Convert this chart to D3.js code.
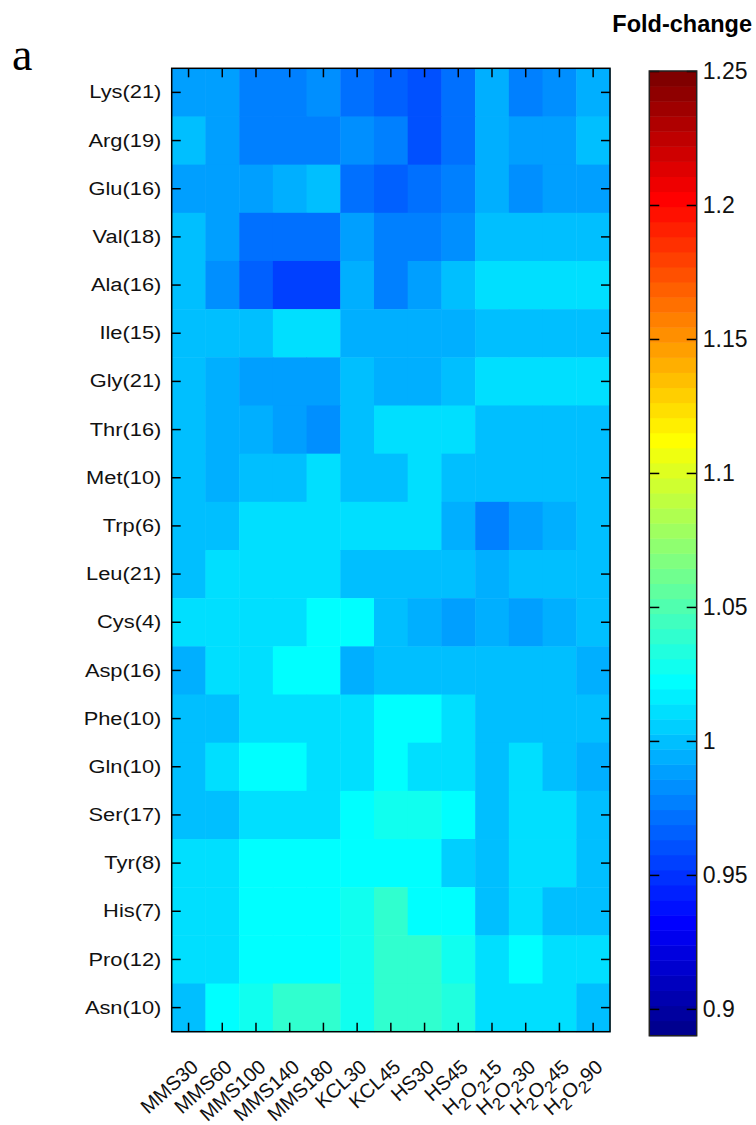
<!DOCTYPE html>
<html>
<head>
<meta charset="utf-8">
<script src="https://cdn.jsdelivr.net/npm/d3@7"></script>
<style>
  body { margin: 0; background: #fff; }
  svg { display: block; }
  .axis text { font-family: "Liberation Sans", Arial, sans-serif; fill: #111; }
  .axis line { stroke: #000; stroke-width: 1.5; }
</style>
</head>
<body>
<div id="chart"></div>
<script>
// amino acids (rows, top to bottom)
var aminoAcids = ['Lys(21)', 'Arg(19)', 'Glu(16)', 'Val(18)', 'Ala(16)', 'Ile(15)', 'Gly(21)',
  'Thr(16)', 'Met(10)', 'Trp(6)', 'Leu(21)', 'Cys(4)', 'Asp(16)', 'Phe(10)', 'Gln(10)',
  'Ser(17)', 'Tyr(8)', 'His(7)', 'Pro(12)', 'Asn(10)'];

// conditions (columns, left to right)
var conditions = ['MMS30', 'MMS60', 'MMS100', 'MMS140', 'MMS180', 'KCL30', 'KCL45',
  'HS30', 'HS45', 'H2O2 15', 'H2O2 30', 'H2O2 45', 'H2O2 90'];

// fold-change, one row per amino acid
var foldChange = [
  [0.988, 0.988, 0.977, 0.977, 0.983, 0.972, 0.966, 0.960, 0.972, 0.994, 0.977, 0.983, 0.994],
  [1.000, 0.988, 0.977, 0.977, 0.977, 0.983, 0.977, 0.960, 0.972, 0.994, 0.988, 0.988, 1.000],
  [0.988, 0.988, 0.988, 0.994, 1.000, 0.972, 0.966, 0.972, 0.977, 0.994, 0.983, 0.988, 0.988],
  [1.000, 0.988, 0.972, 0.972, 0.972, 0.988, 0.977, 0.977, 0.983, 1.000, 1.000, 1.000, 1.000],
  [1.000, 0.983, 0.966, 0.955, 0.955, 0.994, 0.977, 0.988, 1.000, 1.011, 1.011, 1.011, 1.011],
  [1.000, 1.000, 1.000, 1.011, 1.011, 0.994, 0.994, 0.994, 0.994, 1.000, 1.000, 1.000, 1.000],
  [1.000, 0.994, 0.988, 0.988, 0.988, 1.000, 0.994, 0.994, 1.000, 1.011, 1.011, 1.011, 1.011],
  [1.000, 0.994, 0.994, 0.988, 0.983, 1.000, 1.011, 1.011, 1.011, 1.000, 1.000, 1.000, 1.000],
  [1.000, 0.994, 1.000, 1.000, 1.011, 1.000, 1.000, 1.011, 1.000, 1.000, 1.000, 1.000, 1.000],
  [1.000, 1.000, 1.011, 1.011, 1.011, 1.011, 1.011, 1.011, 0.994, 0.977, 0.988, 0.994, 1.000],
  [1.000, 1.011, 1.011, 1.011, 1.011, 1.000, 1.000, 1.000, 1.000, 0.994, 1.000, 1.000, 1.000],
  [1.011, 1.011, 1.011, 1.011, 1.022, 1.022, 1.000, 0.994, 0.988, 0.994, 0.988, 0.994, 1.000],
  [0.994, 1.011, 1.011, 1.022, 1.022, 0.994, 1.000, 1.000, 1.000, 1.000, 1.000, 1.000, 0.994],
  [1.000, 1.000, 1.011, 1.011, 1.011, 1.011, 1.022, 1.022, 1.011, 1.000, 1.000, 1.000, 1.000],
  [1.000, 1.011, 1.022, 1.022, 1.011, 1.011, 1.022, 1.011, 1.011, 1.000, 1.011, 1.000, 0.994],
  [1.000, 1.000, 1.011, 1.011, 1.011, 1.022, 1.028, 1.028, 1.022, 1.000, 1.011, 1.011, 1.000],
  [1.011, 1.011, 1.022, 1.022, 1.022, 1.022, 1.022, 1.022, 1.005, 1.000, 1.011, 1.011, 1.000],
  [1.011, 1.011, 1.022, 1.022, 1.022, 1.028, 1.039, 1.022, 1.022, 1.000, 1.011, 1.000, 1.000],
  [1.011, 1.011, 1.022, 1.022, 1.022, 1.028, 1.039, 1.039, 1.028, 1.011, 1.022, 1.011, 1.011],
  [1.000, 1.022, 1.028, 1.039, 1.039, 1.028, 1.039, 1.039, 1.033, 1.011, 1.011, 1.011, 1.000]
];

// colour bar range and labelled ticks
var colorDomain = [0.89, 1.25];
var colorTicks = [0.9, 0.95, 1, 1.05, 1.1, 1.15, 1.2, 1.25];

// 64 step jet colormap
function jet(n) {
  var out = [];
  for (var i = 0; i < n; i++) {
    var t = (i + 1) / n * 4; // 0..4
    var r = Math.min(Math.max(Math.min(t - 1.5, -t + 4.5), 0), 1);
    var g = Math.min(Math.max(Math.min(t - 0.5, -t + 3.5), 0), 1);
    var b = Math.min(Math.max(Math.min(t + 0.5, -t + 2.5), 0), 1);
    out.push(d3.rgb(r * 255, g * 255, b * 255).formatHex());
  }
  return out;
}
var jetColors = jet(64);

var width = 756, height = 1125;
var plot = { left: 171.7, right: 610, top: 68.3, bottom: 1031.7 };
var bar = { left: 649.3, right: 696.7, top: 71, bottom: 1035.7 };

var svg = d3.select('#chart').append('svg')
  .attr('width', width)
  .attr('height', height);

var x = d3.scaleBand().domain(conditions).range([plot.left, plot.right]);
var y = d3.scaleBand().domain(aminoAcids).range([plot.top, plot.bottom]);
var color = d3.scaleQuantize().domain(colorDomain).range(jetColors);

var cells = [];
foldChange.forEach(function (row, i) {
  row.forEach(function (v, j) {
    cells.push({ aa: aminoAcids[i], cond: conditions[j], value: v });
  });
});

svg.append('g')
  .selectAll('rect')
  .data(cells)
  .enter()
  .append('rect')
  .attr('x', function (d) { return x(d.cond); })
  .attr('y', function (d) { return y(d.aa); })
  .attr('width', x.bandwidth() + 0.5)
  .attr('height', y.bandwidth() + 0.5)
  .attr('fill', function (d) { return color(d.value); });

// axes with inward ticks on all four sides
var yLeft = svg.append('g')
  .attr('class', 'axis')
  .attr('transform', 'translate(' + plot.left + ',0)')
  .call(d3.axisLeft(y).tickSize(-9).tickPadding(9));
yLeft.select('.domain').remove();
yLeft.selectAll('text')
  .style('font-size', '19px')
  .attr('transform', 'scale(1.15,1)');

svg.append('g')
  .attr('class', 'axis')
  .attr('transform', 'translate(' + plot.right + ',0)')
  .call(d3.axisRight(y).tickSize(-9).tickFormat(''))
  .select('.domain').remove();

svg.append('g')
  .attr('class', 'axis')
  .attr('transform', 'translate(0,' + plot.top + ')')
  .call(d3.axisTop(x).tickSize(-9).tickFormat(''))
  .select('.domain').remove();

var xBottom = svg.append('g')
  .attr('class', 'axis')
  .attr('transform', 'translate(0,' + plot.bottom + ')')
  .call(d3.axisBottom(x).tickSize(-9).tickFormat(''));
xBottom.select('.domain').remove();

// rotated condition labels, H2O2 with subscripts
xBottom.selectAll('.tick').each(function (d) {
  var t = d3.select(this).append('text')
    .attr('text-anchor', 'end')
    .attr('transform', 'translate(11,37) rotate(-42)')
    .style('font-size', '20px');
  if (d.indexOf('H2O2') === 0) {
    var num = d.split(' ')[1];
    t.append('tspan').text('H');
    t.append('tspan').attr('dy', 6).style('font-size', '17px').text('2');
    t.append('tspan').attr('dy', -6).text('O');
    t.append('tspan').attr('dy', 6).style('font-size', '17px').text('2');
    t.append('tspan').attr('dy', -6).text(num);
  } else {
    t.text(d);
  }
});

svg.append('rect')
  .attr('x', plot.left)
  .attr('y', plot.top)
  .attr('width', plot.right - plot.left)
  .attr('height', plot.bottom - plot.top)
  .attr('fill', 'none')
  .attr('stroke', '#000')
  .attr('stroke-width', 1.5);

// colour bar
var cbY = d3.scaleLinear().domain(colorDomain).range([bar.bottom, bar.top]);
var step = (colorDomain[1] - colorDomain[0]) / jetColors.length;

svg.append('g')
  .selectAll('rect')
  .data(jetColors)
  .enter()
  .append('rect')
  .attr('x', bar.left)
  .attr('width', bar.right - bar.left)
  .attr('y', function (c, i) { return cbY(colorDomain[0] + (i + 1) * step); })
  .attr('height', function (c, i) {
    return cbY(colorDomain[0] + i * step) - cbY(colorDomain[0] + (i + 1) * step) + 0.5;
  })
  .attr('fill', function (c) { return c; });

var cbRight = svg.append('g')
  .attr('class', 'axis')
  .attr('transform', 'translate(' + bar.right + ',0)')
  .call(d3.axisRight(cbY).tickValues(colorTicks).tickSize(-10).tickPadding(6)
    .tickFormat(function (d) { return String(+d.toFixed(2)); }));
cbRight.select('.domain').remove();
cbRight.selectAll('text').style('font-size', '23px');

svg.append('g')
  .attr('class', 'axis')
  .attr('transform', 'translate(' + bar.left + ',0)')
  .call(d3.axisLeft(cbY).tickValues(colorTicks).tickSize(-10).tickFormat(''))
  .select('.domain').remove();

svg.append('rect')
  .attr('x', bar.left)
  .attr('y', bar.top)
  .attr('width', bar.right - bar.left)
  .attr('height', bar.bottom - bar.top)
  .attr('fill', 'none')
  .attr('stroke', '#222')
  .attr('stroke-width', 1.5);

svg.append('text')
  .attr('x', 752)
  .attr('y', 32)
  .attr('text-anchor', 'end')
  .style('font-family', '"Liberation Sans", Arial, sans-serif')
  .style('font-weight', 'bold')
  .style('font-size', '23.5px')
  .text('Fold-change');

svg.append('text')
  .attr('x', 12)
  .attr('y', 70)
  .style('font-family', '"Liberation Serif", "Times New Roman", serif')
  .style('font-size', '46px')
  .text('a');
</script>
</body>
</html>
